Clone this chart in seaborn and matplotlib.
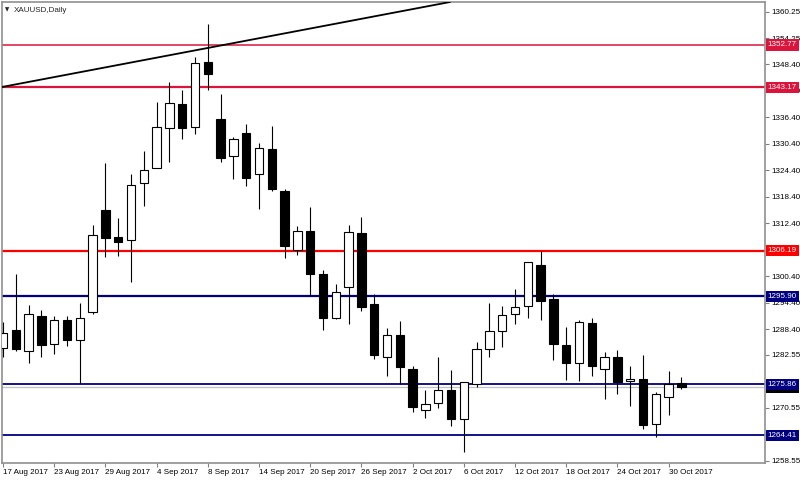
import numpy as np
import pandas as pd
import seaborn as sns
import matplotlib.pyplot as plt

# daily XAUUSD candles, 17 Aug 2017 .. 31 Oct 2017
opens = [1284.05, 1288.13, 1283.44, 1291.37, 1284.96, 1290.46, 1286.00, 1292.34, 1315.32, 1309.27,
         1308.70, 1321.57, 1324.97, 1333.89, 1339.40, 1334.12, 1348.85, 1336.07, 1327.55, 1332.90,
         1323.54, 1329.20, 1319.62, 1306.39, 1310.69, 1300.95, 1290.98, 1298.01, 1310.17, 1294.02,
         1282.01, 1287.00, 1279.43, 1270.14, 1271.73, 1274.67, 1268.03, 1275.90, 1283.89, 1287.90,
         1291.89, 1293.63, 1302.99, 1295.15, 1284.87, 1280.65, 1289.90, 1279.29, 1282.08, 1276.64,
         1277.16, 1266.83, 1273.02, 1276.26]
highs = [1290.08, 1300.82, 1293.93, 1292.66, 1291.44, 1291.37, 1294.31, 1311.99, 1325.96, 1313.68,
         1323.61, 1328.82, 1339.78, 1344.31, 1342.50, 1349.98, 1357.59, 1341.60, 1331.92, 1334.80,
         1330.63, 1334.35, 1320.07, 1311.69, 1316.00, 1301.72, 1298.62, 1311.99, 1313.73, 1296.35,
         1288.72, 1290.24, 1280.11, 1274.60, 1282.15, 1279.07, 1276.49, 1285.41, 1294.31, 1293.57,
         1297.49, 1303.60, 1306.16, 1296.29, 1288.81, 1290.39, 1291.03, 1283.21, 1283.60, 1279.97,
         1282.53, 1274.15, 1278.91, 1277.48]
lows = [1282.01, 1283.51, 1280.65, 1282.01, 1282.76, 1284.57, 1276.26, 1291.89, 1304.80, 1304.96,
        1299.03, 1316.36, 1324.79, 1326.26, 1331.47, 1332.53, 1342.64, 1326.26, 1322.47, 1320.82,
        1315.61, 1319.69, 1304.51, 1305.12, 1296.13, 1288.13, 1290.80, 1289.49, 1292.50, 1281.56,
        1277.71, 1275.90, 1269.55, 1268.33, 1270.46, 1266.38, 1260.45, 1275.22, 1282.01, 1284.35,
        1289.63, 1290.92, 1290.40, 1281.33, 1276.94, 1276.58, 1277.89, 1272.50, 1273.70, 1270.98,
        1265.70, 1263.89, 1268.87, 1274.76]
closes = [1287.59, 1283.83, 1291.76, 1284.80, 1290.46, 1286.00, 1290.98, 1309.65, 1308.97, 1308.13,
          1321.05, 1324.51, 1334.26, 1339.56, 1333.89, 1348.76, 1346.19, 1327.10, 1331.54, 1322.63,
          1329.36, 1320.14, 1307.30, 1310.69, 1300.82, 1290.98, 1296.87, 1310.33, 1293.48, 1282.47,
          1287.00, 1279.88, 1270.69, 1271.39, 1274.60, 1268.03, 1276.49, 1283.83, 1287.90, 1291.60,
          1293.34, 1303.54, 1294.77, 1284.96, 1280.79, 1289.94, 1280.09, 1282.01, 1276.42, 1277.16,
          1266.61, 1273.70, 1276.03, 1275.22]

date_ticks = [0, 4, 8, 12, 16, 20, 24, 28, 32, 36, 40, 44, 48, 52]
date_labels = ["17 Aug 2017", "23 Aug 2017", "29 Aug 2017", "4 Sep 2017", "8 Sep 2017",
               "14 Sep 2017", "20 Sep 2017", "26 Sep 2017", "2 Oct 2017", "6 Oct 2017",
               "12 Oct 2017", "18 Oct 2017", "24 Oct 2017", "30 Oct 2017"]
price_ticks = [1360.25, 1354.25, 1348.40, 1342.40, 1336.40, 1330.40, 1324.40, 1318.40, 1312.40,
               1306.40, 1300.40, 1294.40, 1288.40, 1282.55, 1276.55, 1270.55, 1264.55, 1258.55]
# these scale labels sit fully under a price box on the original
hidden_ticks = [1306.40, 1276.55, 1264.55]

# support / resistance levels drawn on the chart
levels = [1352.77, 1343.17, 1306.19, 1295.90, 1275.86, 1264.41]
level_colors = ["#DC143C", "#DC143C", "#FF0000", "#000080", "#000080", "#000080"]
level_widths = [1.1, 1.6, 1.6, 1.6, 1.3, 1.3]
last_price = 1275.22

# trend line anchor points (bar index, price)
trend_p1 = (0.0, 1343.30)
trend_p2 = (35.0, 1362.55)

sns.set_theme(style="white")
plt.rcParams['font.family'] = ['Liberation Sans', 'DejaVu Sans']

df = pd.DataFrame({"open": opens, "high": highs, "low": lows, "close": closes})
df["x"] = np.arange(len(df))
df["up"] = df["close"] >= df["open"]
df["bottom"] = df[["open", "close"]].min(axis=1)
df["height"] = (df["close"] - df["open"]).abs().clip(lower=0.2)

fig = plt.figure(figsize=(8, 4.8), dpi=100)
ax = fig.add_axes([2 / 800, 17 / 480, 763 / 800, 461 / 480])

ax.vlines(df["x"], df["low"], df["high"], color="black", lw=0.8, zorder=3)
ax.bar(df["x"], df["height"], bottom=df["bottom"], width=0.66,
       color=np.where(df["up"], "white", "black"), edgecolor="black", lw=0.8, zorder=4)

ax.axhline(last_price, color="#C0C0C0", lw=0.9, zorder=1)
for lv, c, w in zip(levels, level_colors, level_widths):
    ax.axhline(lv, color=c, lw=w, zorder=2)
ax.axline(trend_p1, trend_p2, color="black", lw=1.3, zorder=5)

ax.set_xlim(-0.08, 59.53)
ax.set_ylim(1258.07, 1362.51)

ax.set_xticks(date_ticks)
ax.set_xticklabels(date_labels, ha="left")
ax.yaxis.tick_right()
ax.set_yticks(price_ticks)
ax.set_yticklabels(["" if p in hidden_ticks else f"{p:.2f}" for p in price_ticks])
ax.tick_params(axis="both", direction="out", length=3, width=0.8, color="#808080",
               labelsize=5.8, labelcolor="black", pad=1.5)
ax.tick_params(axis="x", bottom=True)
ax.tick_params(axis="y", right=True)
for s in ax.spines.values():
    s.set_color("#909090")
    s.set_linewidth(1.2)
ax.grid(False)

# price labels on the right scale
trans = ax.get_yaxis_transform()
ax.text(1.0035, last_price, f"{last_price:.2f}", transform=trans, fontsize=5.8, color="white",
        va="center", ha="left", clip_on=False, zorder=6,
        bbox=dict(boxstyle="square,pad=0.25", fc="black", ec="none"))
for lv, c in zip(levels, level_colors):
    ax.text(1.0035, lv, f"{lv:.2f}", transform=trans, fontsize=5.8, color="white",
            va="center", ha="left", clip_on=False, zorder=7,
            bbox=dict(boxstyle="square,pad=0.25", fc=c, ec="none"))

fig.text(5 / 800, 1 - 10 / 480, "\u25bc", fontsize=4, family="DejaVu Sans", va="center")
fig.text(14 / 800, 1 - 10 / 480, "XAUUSD,Daily", fontsize=5.8, va="center")

fig.savefig("out.png", dpi=100)
